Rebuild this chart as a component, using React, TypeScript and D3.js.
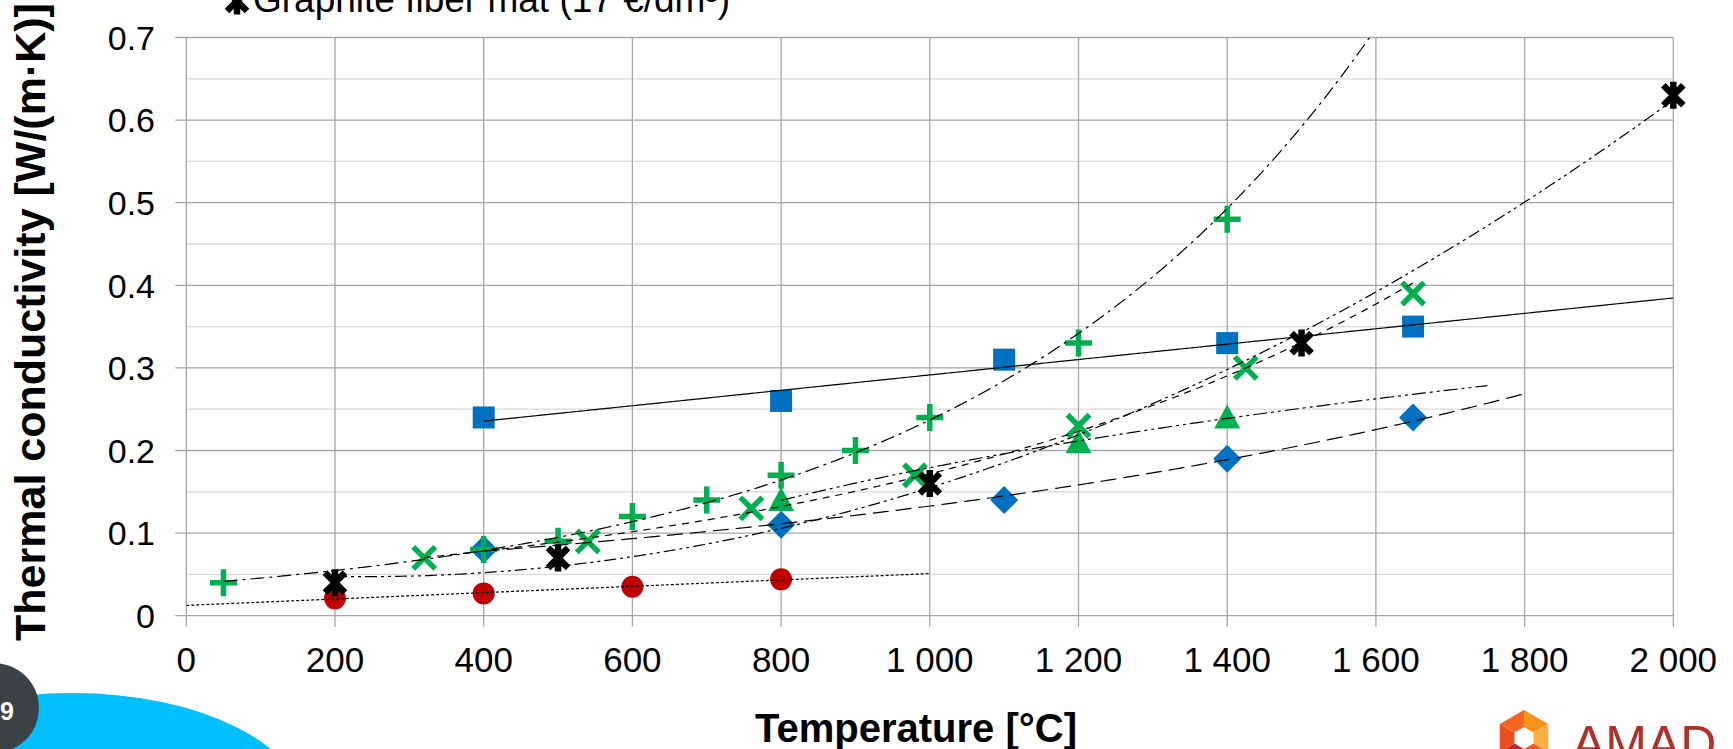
import React from 'react';
import * as d3 from 'd3';

const width = 1733;
const height = 749;
const plot = { left: 186.3, right: 1673.3, top: 37.5, bottom: 615.7 };

// values (temperature in °C, conductivity in W/(m·K))
const squareTemp = [400, 800, 1100, 1400, 1650];
const squareK = [0.24, 0.26, 0.31, 0.33, 0.35];

const diamondTemp = [400, 800, 1100, 1400, 1650];
const diamondK = [0.08, 0.11, 0.14, 0.19, 0.24];

const circleTemp = [200, 400, 600, 800];
const circleK = [0.021, 0.027, 0.035, 0.044];

const plusTemp = [50, 400, 500, 600, 700, 800, 900, 1000, 1200, 1400];
const plusK = [0.04, 0.08, 0.09, 0.12, 0.14, 0.17, 0.2, 0.24, 0.33, 0.48];

const crossTemp = [320, 540, 760, 980, 1200, 1425, 1650];
const crossK = [0.07, 0.09, 0.13, 0.17, 0.23, 0.3, 0.39];

const triangleTemp = [800, 1200, 1400];
const triangleK = [0.14, 0.21, 0.24];

const starTemp = [200, 500, 1000, 1500, 2000];
const starK = [0.04, 0.07, 0.16, 0.33, 0.63];

const legendLabel = 'Graphite fiber mat (17 €/dm³)';
const xTicks = [0, 200, 400, 600, 800, 1000, 1200, 1400, 1600, 1800, 2000];

const BLUE = '#0070C0';
const GREEN = '#00B050';
const RED = '#C00000';
const FONT = '"Liberation Sans", Arial, sans-serif';

type FitType = 'linear' | 'exp' | 'log' | 'poly2';

// least squares trendlines, the same kinds Excel offers
function fitTrend(xs: number[], ys: number[], type: FitType): (x: number) => number {
  const n = xs.length;
  if (type === 'poly2') {
    const s = (p: number, q: number) => d3.sum(xs, (x, i) => Math.pow(x / 1000, p) * Math.pow(ys[i], q));
    const m = [
      [n, s(1, 0), s(2, 0)],
      [s(1, 0), s(2, 0), s(3, 0)],
      [s(2, 0), s(3, 0), s(4, 0)]
    ];
    const r = [s(0, 1), s(1, 1), s(2, 1)];
    const det = (a: number[][]) =>
      a[0][0] * (a[1][1] * a[2][2] - a[1][2] * a[2][1]) -
      a[0][1] * (a[1][0] * a[2][2] - a[1][2] * a[2][0]) +
      a[0][2] * (a[1][0] * a[2][1] - a[1][1] * a[2][0]);
    const d = det(m);
    const coef = [0, 1, 2].map(c => det(m.map((row, i) => row.map((v, j) => (j === c ? r[i] : v)))) / d);
    return x => coef[0] + coef[1] * (x / 1000) + coef[2] * (x / 1000) * (x / 1000);
  }
  const tx = type === 'log' ? xs.map(Math.log) : xs;
  const ty = type === 'exp' ? ys.map(Math.log) : ys;
  const mx = d3.mean(tx) as number;
  const my = d3.mean(ty) as number;
  const sxy = d3.sum(tx, (x, i) => (x - mx) * (ty[i] - my));
  const sxx = d3.sum(tx, x => (x - mx) * (x - mx));
  const b = sxy / sxx;
  const a = my - b * mx;
  if (type === 'exp') return x => Math.exp(a + b * x);
  if (type === 'log') return x => a + b * Math.log(x);
  return x => a + b * x;
}

const series = [
  { key: 'square', xs: squareTemp, ys: squareK, color: BLUE, fit: 'linear', from: 400, to: 2000, dash: null },
  { key: 'diamond', xs: diamondTemp, ys: diamondK, color: BLUE, fit: 'exp', from: 400, to: 1800, dash: '16 7' },
  { key: 'circle', xs: circleTemp, ys: circleK, color: RED, fit: 'linear', from: 0, to: 1000, dash: '3 2' },
  { key: 'plus', xs: plusTemp, ys: plusK, color: GREEN, fit: 'exp', from: 50, to: 1700, dash: '14 5 3 5' },
  { key: 'cross', xs: crossTemp, ys: crossK, color: GREEN, fit: 'exp', from: 320, to: 1650, dash: '7 6' },
  { key: 'triangle', xs: triangleTemp, ys: triangleK, color: GREEN, fit: 'log', from: 800, to: 1750, dash: '14 4 3 4 3 4' },
  { key: 'star', xs: starTemp, ys: starK, color: '#000', fit: 'poly2', from: 200, to: 2000, dash: '12 4 3 4 3 4' }
];

const Marker = ({ kind, color }: { kind: string; color: string }) => {
  if (kind === 'square') return <rect x={-11} y={-11} width={22} height={22} fill={color} />;
  if (kind === 'diamond') return <path d="M0,-14L14,0L0,14L-14,0Z" fill={color} />;
  if (kind === 'triangle') return <path d="M0,-13L13,11L-13,11Z" fill={color} />;
  if (kind === 'circle') return <circle r={11} fill={color} />;
  if (kind === 'plus')
    return <path d="M-13.5,0H13.5M0,-13.5V13.5" stroke={color} strokeWidth={5.5} />;
  if (kind === 'cross')
    return <path d="M-11,-11L11,11M-11,11L11,-11" stroke={color} strokeWidth={5.5} />;
  return <path d="M-10,-10L10,10M-10,10L10,-10M0,-13.5V13.5" stroke={color} strokeWidth={6.5} />;
};

const App = () => {
  const xScale = d3.scaleLinear().domain([0, 2000]).range([plot.left, plot.right]);
  const yScale = d3.scaleLinear().domain([0, 0.7]).range([plot.bottom, plot.top]);

  const locale = d3.formatLocale({ decimal: '.', thousands: ' ', grouping: [3], currency: ['', ''] });
  const xFormat = locale.format(',');
  const yFormat = d3.format('~g');

  const yMajor = yScale.ticks(7);
  const yMinor = yScale.ticks(14).filter(t => !yMajor.some(m => Math.abs(m - t) < 1e-9));

  const line = d3.line<number[]>().x(d => xScale(d[0])).y(d => yScale(d[1]));

  return (
    <svg width={width} height={height} style={{ position: 'absolute', left: 0, top: 0, background: '#fff' }} fontFamily={FONT}>
      <defs>
        <clipPath id="plotClip">
          <rect x={plot.left} y={plot.top} width={plot.right - plot.left} height={plot.bottom - plot.top} />
        </clipPath>
      </defs>

      {/* minor horizontal grid */}
      {yMinor.map(t => (
        <line key={'mi' + t} x1={plot.left} x2={plot.right} y1={yScale(t)} y2={yScale(t)} stroke="#d9d9d9" strokeWidth={1.3} />
      ))}
      {/* major horizontal grid + ticks */}
      {yMajor.map(t => (
        <g key={'ma' + t}>
          <line x1={plot.left - 11} x2={plot.right} y1={yScale(t)} y2={yScale(t)} stroke="#a6a6a6" strokeWidth={1.3} />
          <text x={155} y={yScale(t)} dy="0.36em" textAnchor="end" fontSize={34} fill="#000">
            {yFormat(t)}
          </text>
        </g>
      ))}
      {/* vertical grid + ticks */}
      {xTicks.map(t => (
        <g key={'x' + t}>
          <line x1={xScale(t)} x2={xScale(t)} y1={plot.top} y2={plot.bottom + 11} stroke="#a6a6a6" strokeWidth={1.3} />
          <text x={xScale(t)} y={672} textAnchor="middle" fontSize={35} fill="#000">
            {xFormat(t)}
          </text>
        </g>
      ))}

      {/* markers */}
      {series.map(s => (
        <g key={s.key}>
          {s.xs.map((x, i) => (
            <g key={i} transform={`translate(${xScale(x)},${yScale(s.ys[i])})`}>
              <Marker kind={s.key} color={s.color} />
            </g>
          ))}
        </g>
      ))}

      {/* trendlines */}
      <g clipPath="url(#plotClip)">
        {series.map(s => {
          const f = fitTrend(s.xs, s.ys, s.fit as FitType);
          const pts = d3.range(s.from, s.to, 5).concat([s.to]).map(x => [x, f(x)]);
          return (
            <path
              key={'t' + s.key}
              d={line(pts) || ''}
              fill="none"
              stroke="#000"
              strokeWidth={1.2}
              strokeDasharray={s.dash || undefined}
            />
          );
        })}
      </g>

      {/* legend entry, cut by the top edge */}
      <g transform="translate(237,1)">
        <Marker kind="star" color="#000" />
      </g>
      <text x={253} y={12} fontSize={37} fill="#000">{legendLabel}</text>

      {/* axis titles */}
      <text
        transform="translate(45,322) rotate(-90)"
        textAnchor="middle"
        fontSize={43}
        fontWeight="bold"
        fill="#000"
      >
        Thermal conductivity [W/(m·K)]
      </text>
      <text x={916} y={742} textAnchor="middle" fontSize={40} fontWeight="bold" fill="#000">
        Temperature [°C]
      </text>

      {/* slide decorations */}
      <ellipse cx={72} cy={809} rx={232} ry={116} fill="#00BFFF" />
      <circle cx={-6} cy={708} r={45} fill="#3C4148" />
      <text x={14} y={720} textAnchor="end" fontSize={25} fontWeight="bold" fill="#fff">19</text>

      <g transform="translate(1524,738)">
        {d3.range(6).map(i => {
          const a0 = (Math.PI / 3) * i - Math.PI / 2;
          const a1 = a0 + Math.PI / 3;
          const colors = ['#F7941D', '#FBB040', '#F15A24', '#C1272D', '#E8501E', '#F26522'];
          return (
            <path
              key={i}
              d={`M0,0L${28 * Math.cos(a0)},${28 * Math.sin(a0)}L${28 * Math.cos(a1)},${28 * Math.sin(a1)}Z`}
              fill={colors[i]}
            />
          );
        })}
        <path d="M0,-11L9.5,-5.5L9.5,5.5L0,11L-9.5,5.5L-9.5,-5.5Z" fill="#fff" />
      </g>
      <text x={1572} y={761} fontSize={50} fill="#B0302A">AMAD</text>
    </svg>
  );
};

export default App;
